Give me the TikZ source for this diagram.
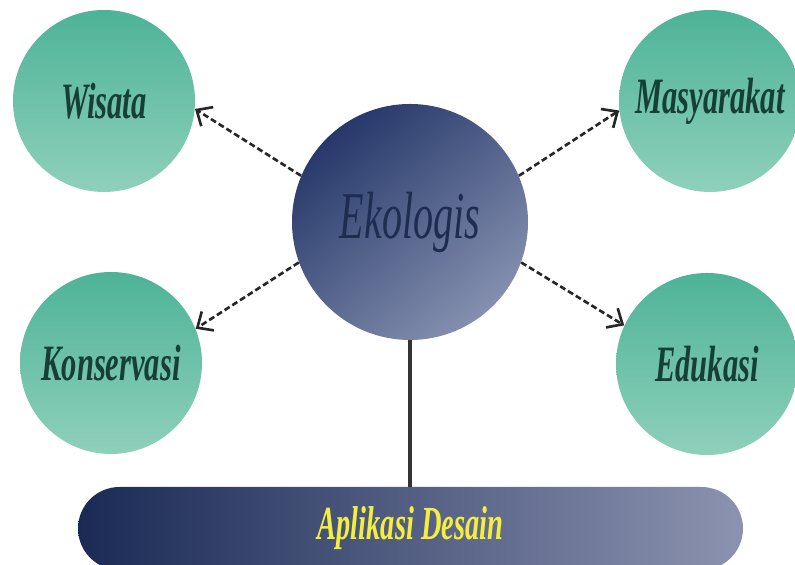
\documentclass[tikz,border=0pt]{standalone}
\usepackage{fontspec}
\setmainfont{Liberation Serif}
\usetikzlibrary{arrows.meta}
\definecolor{tealtop}{HTML}{4DB397}
\definecolor{tealbot}{HTML}{8FD0BB}
\definecolor{tealtxt}{HTML}{163F35}
\definecolor{navydark}{HTML}{26386A}
\definecolor{navylight}{HTML}{8590AF}
\definecolor{navytxt}{HTML}{1E2C50}
\definecolor{bardark}{HTML}{1A2A55}
\definecolor{barlight}{HTML}{8C93B0}
\definecolor{desainyellow}{HTML}{F4EE3E}
\newcommand{\narrow}[1]{\scalebox{0.6}[1]{#1}}
\tikzset{
  sat/.style={circle, minimum size=3.64cm, inner sep=0pt, top color=tealtop, bottom color=tealbot,
    text=tealtxt, font=\fontsize{29}{29}\selectfont\bfseries\itshape},
  hub/.style={circle, minimum size=4.72cm, inner sep=0pt, top color=navydark, bottom color=navylight,
    shading angle=40, text=navytxt, font=\fontsize{38}{38}\selectfont\itshape},
  basebar/.style={rectangle, rounded corners=0.83cm, minimum width=13.3cm, minimum height=1.66cm,
    left color=bardark, right color=barlight, text=desainyellow,
    font=\fontsize{27}{27}\selectfont\bfseries\itshape},
  link/.style={dash pattern=on 3.4pt off 1.8pt, line width=1.5pt, color=black!85,
    -{Straight Barb[length=2.5mm, width=4.5mm, line width=1.5pt]}}
}
\begin{document}
\begin{tikzpicture}
  \useasboundingbox (0,0) rectangle (15.9,11.3);
  \node[sat] (wis) at (2.08,9.28) {\narrow{Wisata}};
  \node[sat] (mas) at (14.2,9.28) {\narrow{Masyarakat}};
  \node[sat] (kon) at (2.22,4.04) {\narrow{Konservasi}};
  \node[sat] (edu) at (14.14,4.02) {\narrow{Edukasi}};
  \node[hub] (eko) at (8.2,6.86) {\narrow{Ekologis}};
  \node[basebar] (app) at (8.21,0.73) {\narrow{Aplikasi Desain}};
  \draw[link] (eko.157) -- (wis.-5);
  \draw[link] (eko.23) -- (mas.186);
  \draw[link] (eko.200) -- (kon.22);
  \draw[link] (eko.-20) -- (edu.155);
  \draw[line width=1.8pt, color=black!80] (eko.south) -- (eko.south |- app.north);

\end{tikzpicture}
\end{document}
